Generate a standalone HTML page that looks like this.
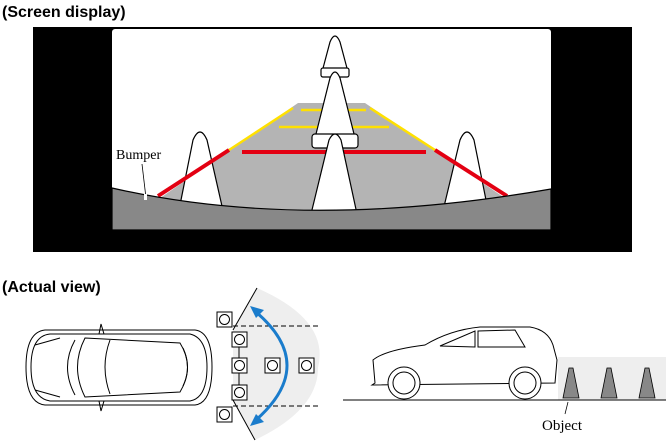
<!DOCTYPE html>
<html><head><meta charset="utf-8"><style>
body{margin:0;background:#fff;}
svg{display:block;}
.t{font-family:"Liberation Sans",sans-serif;font-weight:bold;font-size:16px;}
.s{font-family:"Liberation Serif",serif;font-size:14px;}
</style></head><body>
<svg width="666" height="444" viewBox="0 0 666 444" xmlns="http://www.w3.org/2000/svg">
<text x="2" y="17" class="t">(Screen display)</text>
<rect x="33" y="27" width="599" height="225" fill="#000"/>
<rect x="112" y="29" width="439" height="201" rx="3" fill="#fff"/>
<!-- road -->
<polygon points="298,103 365,103 515,205 440,212 305,215 220,212 150,205" fill="#b4b4b4"/>
<!-- side cones -->
<path d="M178,215 L193,140 Q200,124 207,140 L224,215" fill="#fff" stroke="#000" stroke-width="1.2"/>
<path d="M442,215 L460,140 Q467,124 474,140 L489,215" fill="#fff" stroke="#000" stroke-width="1.2"/>
<!-- guide lines -->
<line x1="293" y1="108" x2="229" y2="150" stroke="#ffe000" stroke-width="2.5"/>
<line x1="370" y1="108" x2="435" y2="150" stroke="#ffe000" stroke-width="2.5"/>
<line x1="229" y1="150" x2="158" y2="196" stroke="#e30012" stroke-width="4"/>
<line x1="435" y1="150" x2="507" y2="196" stroke="#e30012" stroke-width="4"/>
<line x1="301" y1="110" x2="366" y2="110" stroke="#ffe000" stroke-width="2.5"/>
<line x1="279" y1="127" x2="389" y2="127" stroke="#ffe000" stroke-width="2.5"/>
<line x1="242" y1="152" x2="426" y2="152" stroke="#e30012" stroke-width="4"/>
<!-- central cones -->
<path d="M322,72 L330,42 Q335,30 340,42 L348,72" fill="#fff" stroke="#000" stroke-width="1.2"/>
<rect x="321" y="68" width="28" height="9" rx="2" fill="#fff" stroke="#000" stroke-width="1.2"/>
<path d="M315,138 L330,78 Q335,66 340,78 L355,138" fill="#fff" stroke="#000" stroke-width="1.2"/>
<rect x="312" y="134" width="46" height="14" rx="3" fill="#fff" stroke="#000" stroke-width="1.2"/>
<path d="M311,214 L329,140 Q335,128 341,140 L357,214 Z" fill="#fff" stroke="#000" stroke-width="1.2"/>
<!-- ground -->
<path d="M112,188 Q305,232 551,189 L551,230 L112,230 Z" fill="#888" stroke="#000" stroke-width="1.2"/>
<text x="116" y="159" class="s">Bumper</text>
<line x1="142" y1="164" x2="146" y2="198" stroke="#000" stroke-width="0.8"/>
<rect x="144" y="194" width="3" height="6" fill="#fff"/>

<text x="2" y="292" class="t">(Actual view)</text>
<!-- sector -->
<path d="M257,288 Q330,320 318,368 Q318,410 255,440 L233,400 L233,330 Z" fill="#eee"/>
<line x1="257" y1="288" x2="233" y2="330" stroke="#000"/>
<line x1="233" y1="400" x2="255" y2="440" stroke="#000"/>
<line x1="233" y1="326" x2="318" y2="326" stroke="#000" stroke-dasharray="5,3"/>
<line x1="233" y1="406" x2="318" y2="406" stroke="#000" stroke-dasharray="5,3"/>
<line x1="239" y1="340" x2="239" y2="393" stroke="#000"/>
<g fill="#fff" stroke="#000" stroke-width="1">
<rect x="217" y="312" width="15" height="15"/><circle cx="224.5" cy="319.5" r="5"/>
<rect x="232" y="332" width="15" height="15"/><circle cx="239.5" cy="339.5" r="5"/>
<rect x="232" y="358" width="15" height="15"/><circle cx="239.5" cy="365.5" r="5"/>
<rect x="232" y="385" width="15" height="15"/><circle cx="239.5" cy="392.5" r="5"/>
<rect x="217" y="407" width="15" height="15"/><circle cx="224.5" cy="414.5" r="5"/>
<rect x="265" y="358" width="15" height="15"/><circle cx="272.5" cy="365.5" r="5"/>
<rect x="299" y="358" width="15" height="15"/><circle cx="306.5" cy="365.5" r="5"/>
</g>
<path d="M256,312 Q318,365 256,420" fill="none" stroke="#1a7ccc" stroke-width="3"/>
<polygon points="250,306 264,310 256,318" fill="#1a7ccc"/>
<polygon points="250,426 264,422 256,414" fill="#1a7ccc"/>
<!-- car top -->
<g fill="none" stroke="#000" stroke-width="1">
<path d="M45,330 L195,330 Q212,332 212,367 Q212,403 195,405 L45,405 Q26,403 26,367 Q26,332 45,330 Z" fill="#fff"/>
<path d="M50,334 L190,334 Q207,338 207,367 Q207,398 190,401 L50,401 Q31,398 31,367 Q31,336 50,334Z"/>
<path d="M75,340 Q60,367 75,395"/>
<path d="M85,338 L180,343 Q195,367 180,392 L85,397 Q70,367 85,338Z"/>
<path d="M110,340 Q100,367 110,394"/>
<path d="M183,348 Q192,367 183,386"/>
<path d="M99,334 L101,324 L104,334 M99,401 L101,411 L104,401"/>
<path d="M35,345 L60,338 M35,390 L60,397"/>
</g>
<!-- side view -->
<rect x="558" y="357" width="108" height="43" fill="#eee"/>
<line x1="343" y1="400" x2="666" y2="400" stroke="#000"/>
<g fill="#fff" stroke="#000" stroke-width="1">
<path d="M375,383 L373,360 Q385,350 425,345 Q450,330 480,327 L530,327 Q548,330 553,345 L557,360 L555,383 L372,385Z"/>
<circle cx="404" cy="383" r="16"/><circle cx="404" cy="383" r="11"/>
<circle cx="525" cy="383" r="16"/><circle cx="525" cy="383" r="11"/>
<path d="M440,346 L475,331 L475,347 Z M478,331 L515,330 L525,347 L478,347Z" fill="none"/>
</g>
<g fill="#888" stroke="#000" stroke-width="0.8">
<path d="M563,398 L569,368 L573,368 L579,398 Z"/>
<path d="M601,398 L607,368 L611,368 L617,398 Z"/>
<path d="M639,398 L645,368 L649,368 L655,398 Z"/>
</g>
<line x1="568" y1="402" x2="565" y2="414" stroke="#000" stroke-width="0.8"/>
<text x="542" y="430" class="s" style="font-size:15px">Object</text>
</svg>
</body></html>
